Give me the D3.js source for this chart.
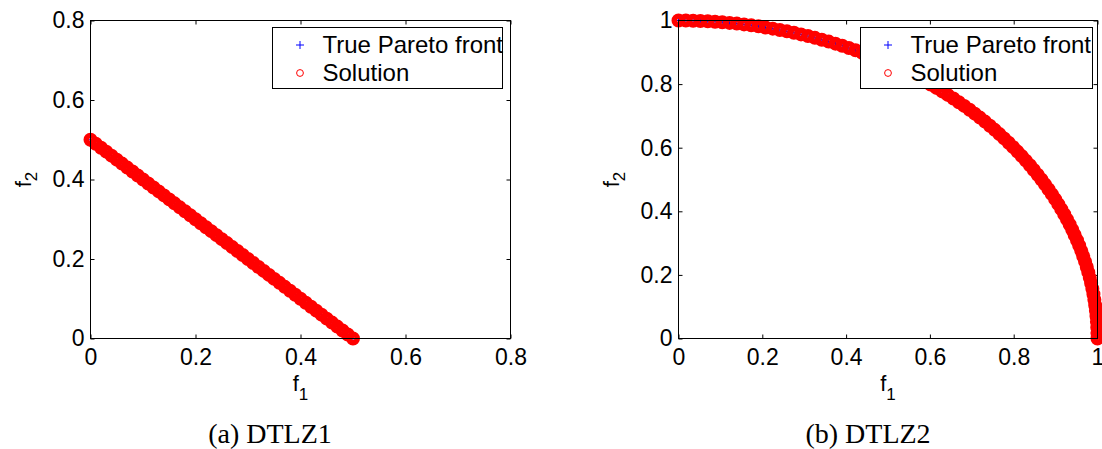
<!DOCTYPE html>
<html>
<head>
<meta charset="utf-8">
<script src="https://cdn.jsdelivr.net/npm/d3@7"></script>
<style>
  body { margin: 0; background: #fff; }
  svg { display: block; }
  .tick text { font-family: "Liberation Sans", Arial, Helvetica, sans-serif; }
</style>
</head>
<body>
<div id="vis"></div>
<script>
// tick values of the two panels
var leftTicks = [0, 0.2, 0.4, 0.6, 0.8];
var rightTicks = [0, 0.2, 0.4, 0.6, 0.8, 1];

// DTLZ1 front (straight line f1 + f2 = 0.5)
var dtlz1F1 = [0.00, 0.01, 0.02, 0.03, 0.04, 0.05, 0.06, 0.07, 0.08, 0.09,
  0.10, 0.11, 0.12, 0.13, 0.14, 0.15, 0.16, 0.17, 0.18, 0.19,
  0.20, 0.21, 0.22, 0.23, 0.24, 0.25, 0.26, 0.27, 0.28, 0.29,
  0.30, 0.31, 0.32, 0.33, 0.34, 0.35, 0.36, 0.37, 0.38, 0.39,
  0.40, 0.41, 0.42, 0.43, 0.44, 0.45, 0.46, 0.47, 0.48, 0.49, 0.50];
var dtlz1F2 = [0.50, 0.49, 0.48, 0.47, 0.46, 0.45, 0.44, 0.43, 0.42, 0.41,
  0.40, 0.39, 0.38, 0.37, 0.36, 0.35, 0.34, 0.33, 0.32, 0.31,
  0.30, 0.29, 0.28, 0.27, 0.26, 0.25, 0.24, 0.23, 0.22, 0.21,
  0.20, 0.19, 0.18, 0.17, 0.16, 0.15, 0.14, 0.13, 0.12, 0.11,
  0.10, 0.09, 0.08, 0.07, 0.06, 0.05, 0.04, 0.03, 0.02, 0.01, 0.00];

// DTLZ2 front, quarter circle
var dtlz2F1 = [0.0000, 0.0175, 0.0349, 0.0523, 0.0698, 0.0872, 0.1045, 0.1219, 0.1392, 0.1564,
  0.1736, 0.1908, 0.2079, 0.2250, 0.2419, 0.2588, 0.2756, 0.2924, 0.3090, 0.3256,
  0.3420, 0.3584, 0.3746, 0.3907, 0.4067, 0.4226, 0.4384, 0.4540, 0.4695, 0.4848,
  0.5000, 0.5150, 0.5299, 0.5446, 0.5592, 0.5736, 0.5878, 0.6018, 0.6157, 0.6293,
  0.6428, 0.6561, 0.6691, 0.6820, 0.6947, 0.7071, 0.7193, 0.7314, 0.7431, 0.7547,
  0.7660, 0.7771, 0.7880, 0.7986, 0.8090, 0.8192, 0.8290, 0.8387, 0.8480, 0.8572,
  0.8660, 0.8746, 0.8829, 0.8910, 0.8988, 0.9063, 0.9135, 0.9205, 0.9272, 0.9336,
  0.9397, 0.9455, 0.9511, 0.9563, 0.9613, 0.9659, 0.9703, 0.9744, 0.9781, 0.9816,
  0.9848, 0.9877, 0.9903, 0.9925, 0.9945, 0.9962, 0.9976, 0.9986, 0.9994, 0.9998, 1.0000];
var dtlz2F2 = [1.0000, 0.9998, 0.9994, 0.9986, 0.9976, 0.9962, 0.9945, 0.9925, 0.9903, 0.9877,
  0.9848, 0.9816, 0.9781, 0.9744, 0.9703, 0.9659, 0.9613, 0.9563, 0.9511, 0.9455,
  0.9397, 0.9336, 0.9272, 0.9205, 0.9135, 0.9063, 0.8988, 0.8910, 0.8829, 0.8746,
  0.8660, 0.8572, 0.8480, 0.8387, 0.8290, 0.8192, 0.8090, 0.7986, 0.7880, 0.7771,
  0.7660, 0.7547, 0.7431, 0.7314, 0.7193, 0.7071, 0.6947, 0.6820, 0.6691, 0.6561,
  0.6428, 0.6293, 0.6157, 0.6018, 0.5878, 0.5736, 0.5592, 0.5446, 0.5299, 0.5150,
  0.5000, 0.4848, 0.4695, 0.4540, 0.4384, 0.4226, 0.4067, 0.3907, 0.3746, 0.3584,
  0.3420, 0.3256, 0.3090, 0.2924, 0.2756, 0.2588, 0.2419, 0.2250, 0.2079, 0.1908,
  0.1736, 0.1564, 0.1392, 0.1219, 0.1045, 0.0872, 0.0698, 0.0523, 0.0349, 0.0175, 0.0000];

var legendLabels = ['True Pareto front', 'Solution'];
var captions = ['(a) DTLZ1', '(b) DTLZ2'];

var width = 1102;
var height = 449;
var sans = '"Liberation Sans", Arial, Helvetica, sans-serif';
var serif = '"Liberation Serif", "Times New Roman", serif';

var svg = d3.select('#vis').append('svg')
  .attr('width', width)
  .attr('height', height);

svg.append('rect').attr('width', width).attr('height', height).attr('fill', '#fff');

function drawPanel(p) {
  var x = d3.scaleLinear().domain([0, p.max]).range([p.left, p.right]);
  var y = d3.scaleLinear().domain([0, p.max]).range([p.bottom, p.top]);
  var fmt = d3.format('~g');
  var g = svg.append('g');

  // axes with inward ticks on all four sides
  var ax = [
    [d3.axisBottom(x).tickFormat(fmt).tickPadding(10), p.bottom, 'x'],
    [d3.axisTop(x).tickFormat(''), p.top, 'x'],
    [d3.axisLeft(y).tickFormat(fmt).tickPadding(6), p.left, 'y'],
    [d3.axisRight(y).tickFormat(''), p.right, 'y']
  ];
  ax.forEach(function (a) {
    var axis = a[0].tickValues(p.ticks).tickSizeInner(-4).tickSizeOuter(0);
    var t = a[2] === 'x' ? 'translate(0,' + a[1] + ')' : 'translate(' + a[1] + ',0)';
    var ag = g.append('g').attr('transform', t).call(axis);
    ag.select('.domain').remove();
    ag.selectAll('line').attr('stroke', '#000');
    ag.selectAll('text').attr('font-size', 23).attr('fill', '#000');
  });

  // true front, blue plus markers underneath
  g.append('g').selectAll('path')
    .data(p.f1)
    .join('path')
    .attr('transform', function (d, i) { return 'translate(' + x(d) + ',' + y(p.f2[i]) + ')'; })
    .attr('d', 'M-3,0H3M0,-3V3')
    .attr('stroke', '#0000ff')
    .attr('stroke-width', 1);

  // solution, red circles
  g.append('g').selectAll('circle')
    .data(p.f1)
    .join('circle')
    .attr('cx', function (d) { return x(d); })
    .attr('cy', function (d, i) { return y(p.f2[i]); })
    .attr('r', 4.2)
    .attr('fill', 'none')
    .attr('stroke', '#ff0000')
    .attr('stroke-width', 5.6);

  // box
  g.append('rect')
    .attr('x', p.left).attr('y', p.top)
    .attr('width', p.right - p.left).attr('height', p.bottom - p.top)
    .attr('fill', 'none').attr('stroke', '#000').attr('stroke-width', 1);

  // legend
  var lg = g.append('g').attr('transform', 'translate(' + p.legX + ',' + p.legY + ')');
  lg.append('rect')
    .attr('width', p.legW).attr('height', 61)
    .attr('fill', '#fff').attr('stroke', '#000').attr('stroke-width', 1);
  lg.append('path').attr('d', 'M23.5,17.5H31.5M27.5,13.5V21.5')
    .attr('stroke', '#0000ff').attr('stroke-width', 1);
  lg.append('circle').attr('cx', 27.5).attr('cy', 45.5).attr('r', 3.4)
    .attr('fill', 'none').attr('stroke', '#ff0000').attr('stroke-width', 1);
  lg.selectAll('text.lab')
    .data(legendLabels)
    .join('text')
    .attr('class', 'lab')
    .attr('x', 50)
    .attr('y', function (d, i) { return 25 + i * 28; })
    .attr('font-family', sans)
    .attr('font-size', 24)
    .text(function (d) { return d; });

  // axis labels
  var xl = g.append('text')
    .attr('x', (p.left + p.right) / 2).attr('y', p.bottom + 52)
    .attr('text-anchor', 'middle')
    .attr('font-family', sans).attr('font-size', 22);
  xl.append('tspan').text('f');
  xl.append('tspan').attr('dy', 9).attr('font-size', 17).text('1');

  var yl = g.append('text')
    .attr('transform', 'translate(' + (p.left - 60) + ',' + ((p.top + p.bottom) / 2) + ') rotate(-90)')
    .attr('text-anchor', 'middle')
    .attr('font-family', sans).attr('font-size', 22);
  yl.append('tspan').text('f');
  yl.append('tspan').attr('dy', 6).attr('font-size', 17).text('2');

  // caption
  g.append('text')
    .attr('x', p.capX).attr('y', 443)
    .attr('text-anchor', 'middle')
    .attr('font-family', serif).attr('font-size', 28)
    .text(p.caption);
}

drawPanel({
  left: 90.5, right: 510.5, top: 20.5, bottom: 338.5, max: 0.8,
  ticks: leftTicks, f1: dtlz1F1, f2: dtlz1F2,
  legX: 272.5, legY: 27.5, legW: 230, capX: 270, caption: captions[0]
});
drawPanel({
  left: 678.5, right: 1097.5, top: 20.5, bottom: 338.5, max: 1,
  ticks: rightTicks, f1: dtlz2F1, f2: dtlz2F2,
  legX: 860.5, legY: 27.5, legW: 232, capX: 868, caption: captions[1]
});
</script>
</body>
</html>
